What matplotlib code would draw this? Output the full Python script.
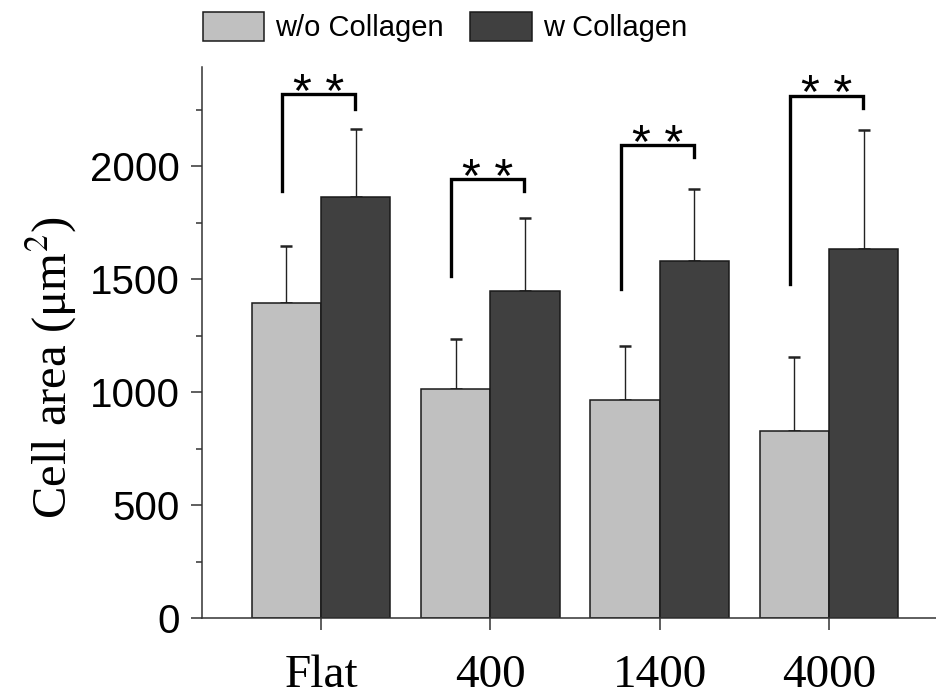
import numpy as np
import matplotlib
matplotlib.use('Agg')
import matplotlib.pyplot as plt
from matplotlib.ticker import MultipleLocator

# values
groups = ['Flat', '400', '1400', '4000']
wo_mean = [1395, 1015, 967, 829]
wo_err = [252, 222, 236, 327]
w_mean = [1866, 1447, 1580, 1636]
w_err = [298, 324, 321, 527]

# significance brackets: left leg bottom, top, right leg bottom
br_left = [1893, 1513, 1455, 1480]
br_top = [2319, 1942, 2094, 2312]
br_right = [2253, 1890, 2041, 2257]

plt.rcParams['mathtext.fontset'] = 'stix'

fig = plt.figure(figsize=(9.37, 6.98), dpi=100)
ax = fig.add_axes([0.2156, 0.1146, 0.7844, 0.7894])

x = np.arange(len(groups))
w = 0.41
edge = '#1a1a1a'
ax.bar(x, wo_mean, width=-w, align='edge', color='#c0c0c0', edgecolor=edge,
       linewidth=1.1, label='w/o Collagen', zorder=2)
ax.bar(x, w_mean, width=w, align='edge', color='#404040', edgecolor=edge,
       linewidth=1.1, label='w Collagen', zorder=2)

# upward error bars only
ax.errorbar(x - w / 2, wo_mean, yerr=[np.zeros(4), wo_err], fmt='none',
            ecolor='#222222', elinewidth=1.0, capsize=4, capthick=1.8, zorder=1)
ax.errorbar(x + w / 2, w_mean, yerr=[np.zeros(4), w_err], fmt='none',
            ecolor='#222222', elinewidth=1.0, capsize=4, capthick=1.8, zorder=1)

for i in range(len(groups)):
    xl = x[i] - 0.23
    xr = x[i] + 0.20
    ax.plot([xl, xl, xr, xr], [br_left[i], br_top[i], br_top[i], br_right[i]],
            color='black', lw=2.4, solid_joinstyle='miter', zorder=3)
    ax.annotate('* *', xy=((xl + xr) / 2, br_top[i]), xytext=(0, -9),
                textcoords='offset points', ha='center', va='baseline',
                fontsize=35, family='Liberation Sans')

ax.set_xlim(-0.703, 3.638)
ax.set_ylim(0, 2440)
ax.yaxis.set_major_locator(MultipleLocator(500))
ax.yaxis.set_minor_locator(MultipleLocator(250))
ax.set_xticks(x)
ax.set_xticklabels(groups, family='Liberation Serif', fontsize=34)
for lab in ax.get_yticklabels():
    lab.set_family('Liberation Sans')
    lab.set_fontsize(29)

ax.tick_params(axis='y', which='major', direction='out', length=8, width=1.1,
               pad=8, colors='#333333', labelcolor='black', labelsize=29)
ax.tick_params(axis='y', which='minor', direction='out', length=4.5, width=1.1,
               colors='#333333')
ax.tick_params(axis='x', direction='out', length=8.5, width=1.1, pad=18,
               colors='#333333', labelcolor='black')

for s in ['top', 'right']:
    ax.spines[s].set_visible(False)
for s in ['left', 'bottom']:
    ax.spines[s].set_linewidth(1.1)
    ax.spines[s].set_color('#333333')

ax.set_ylabel('Cell area (μm$^2$)', family='Liberation Serif', fontsize=35)
ax.yaxis.set_label_coords(-0.168, 0.454)

fig.legend(loc='center', bbox_to_anchor=(445 / 937, 1 - 27 / 698), ncol=2,
           frameon=False, prop={'family': 'Liberation Sans', 'size': 21},
           handlelength=2.1, handleheight=1.15, handletextpad=0.4,
           columnspacing=0.9)

fig.savefig('out.png', dpi=100)
